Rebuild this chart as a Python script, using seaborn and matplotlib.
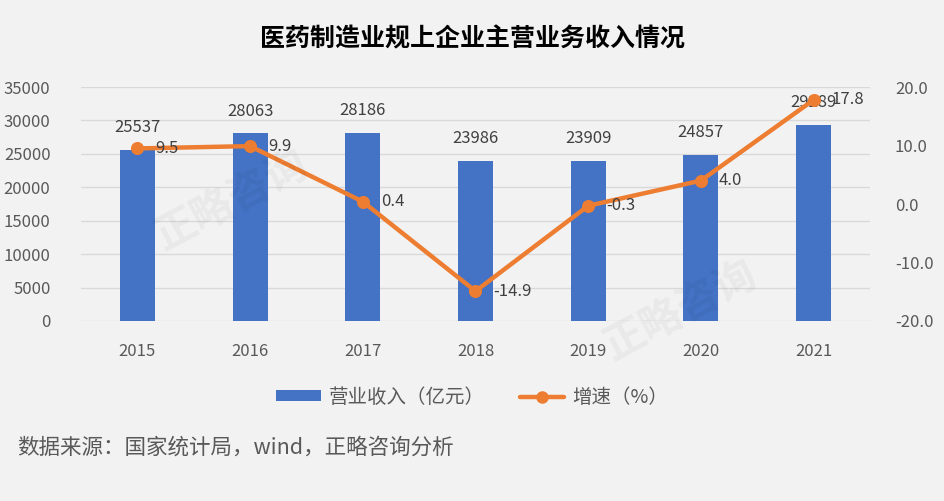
import numpy as np
import pandas as pd
import seaborn as sns
import matplotlib.pyplot as plt
from matplotlib.patches import Patch
from matplotlib.lines import Line2D

years = ["2015", "2016", "2017", "2018", "2019", "2020", "2021"]
revenue = [25537, 28063, 28186, 23986, 23909, 24857, 29289]
growth = [9.5, 9.9, 0.4, -14.9, -0.3, 4.0, 17.8]

bar_color = "#4472C4"
line_color = "#ED7D31"
bg = "#F2F2F2"

sns.set_style("white")
plt.rcParams["font.family"] = ["Noto Sans CJK SC", "DejaVu Sans"]

df = pd.DataFrame({"year": years, "revenue": revenue, "growth": growth})

fig = plt.figure(figsize=(9.44, 5.01), dpi=100, facecolor=bg)
ax = fig.add_axes([0.0858, 0.3593, 0.8358, 0.467])
ax.set_facecolor(bg)

sns.barplot(data=df, x="year", y="revenue", color=bar_color, width=0.31,
            saturation=1, ax=ax, zorder=2, edgecolor="none", linewidth=0)
ax.set_ylim(0, 35000)
ax.set_yticks(np.arange(0, 35001, 5000))
ax.grid(axis="y", color="#D9D9D9", linewidth=1, zorder=0)
ax.set_axisbelow(True)

ax2 = ax.twinx()
sns.pointplot(data=df, x="year", y="growth", color=line_color, ax=ax2,
              markers="o", markersize=7, linewidth=3.2)
ax2.set_ylim(-20, 20)
ax2.set_yticks(np.arange(-20, 20.1, 10))
ax2.set_yticklabels([f"{v:.1f}" for v in np.arange(-20, 20.1, 10)])
ax.set_xlim(-0.5, 6.5)
ax2.set_xlim(-0.5, 6.5)

for a in (ax, ax2):
    for s in a.spines.values():
        s.set_visible(False)
    a.set_xlabel("")
    a.set_ylabel("")
    a.tick_params(length=0, labelsize=12, colors="#595959")
ax.tick_params(axis="x", pad=16)
ax.tick_params(axis="y", pad=22)
ax2.tick_params(axis="y", pad=18)

for i, v in enumerate(revenue):
    ax.annotate(f"{v}", (i, v), xytext=(0, 10), textcoords="offset points",
                ha="center", va="bottom", fontsize=12, color="#404040")
for i, v in enumerate(growth):
    ax2.annotate(f"{v:.1f}", (i, v), xytext=(13, 0), textcoords="offset points",
                 ha="left", va="center", fontsize=12, color="#404040")

# watermark
fig.text(0.245, 0.60, "正略咨询", fontsize=30, color="#000000", alpha=0.04,
         rotation=28, ha="center", va="center", fontweight="bold")
fig.text(0.72, 0.38, "正略咨询", fontsize=30, color="#000000", alpha=0.04,
         rotation=28, ha="center", va="center", fontweight="bold")

fig.text(0.5, 0.922, "医药制造业规上企业主营业务收入情况", ha="center", va="center",
         fontsize=18, fontweight="bold", color="#000000")

handles = [Patch(facecolor=bar_color, edgecolor="none"),
           Line2D([0], [0], color=line_color, lw=3.2, marker="o", markersize=8)]
fig.legend(handles, ["营业收入（亿元）", "增速（%）"], loc="center",
           bbox_to_anchor=(0.5, 0.207), ncol=2, frameon=False, fontsize=14,
           labelcolor="#595959", columnspacing=1.8, handlelength=2.3,
           handleheight=0.5, handletextpad=0.4)

fig.text(0.018, 0.107, "数据来源：国家统计局，wind，正略咨询分析", ha="left",
         va="center", fontsize=15.5, color="#595959")

fig.savefig("out.png", dpi=100, facecolor=bg)
